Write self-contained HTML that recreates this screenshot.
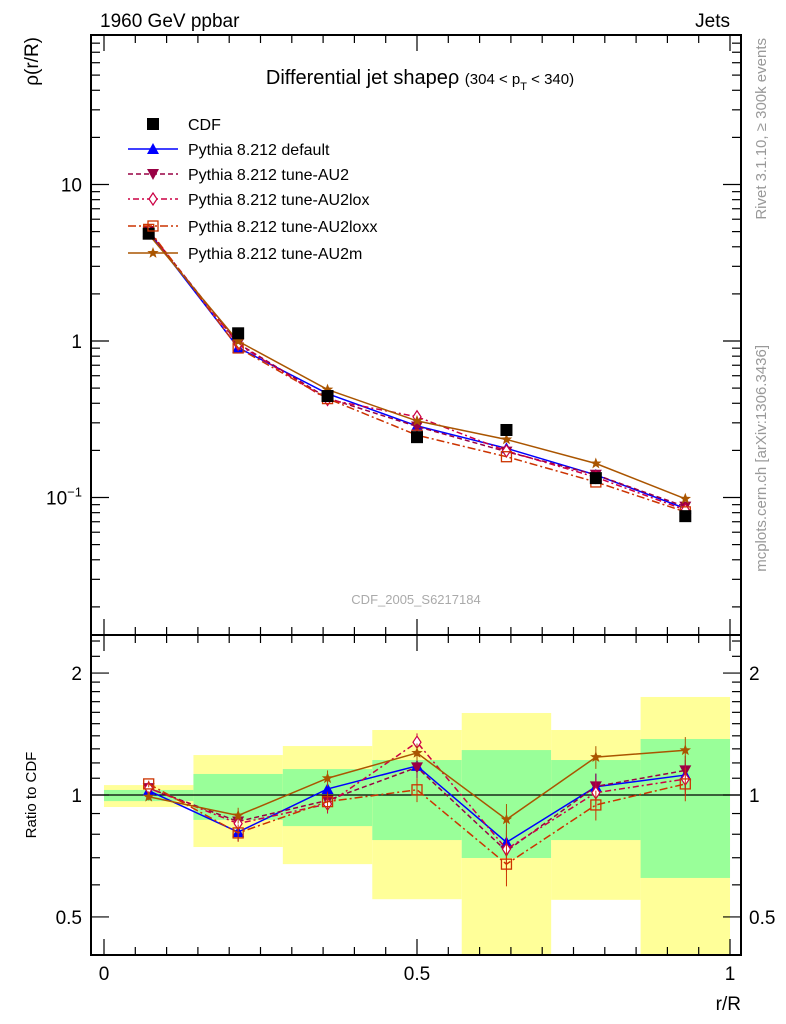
<!DOCTYPE html>
<html><head><meta charset="utf-8"><style>
html,body{margin:0;padding:0;background:#fff;}
svg{display:block;font-family:"Liberation Sans",sans-serif;}
</style></head><body>
<svg id="c" width="786" height="1024" viewBox="0 0 786 1024" xmlns="http://www.w3.org/2000/svg">
<text x="100" y="27" font-size="19">1960 GeV ppbar</text>
<text x="730" y="27" font-size="19" text-anchor="end">Jets</text>
<text x="420" y="84" font-size="20" text-anchor="middle">Differential jet shapeρ <tspan font-size="15">(304 &lt; p</tspan><tspan font-size="11" dy="6">T</tspan><tspan font-size="15" dy="-6"> &lt; 340)</tspan></text>
<text transform="translate(38,37) rotate(-90)" font-size="19" text-anchor="end">ρ(r/R)</text>
<text transform="translate(36,795) rotate(-90)" font-size="15" text-anchor="middle">Ratio to CDF</text>
<text x="741" y="1010" font-size="19" text-anchor="end">r/R</text>
<text transform="translate(766,38) rotate(-90)" font-size="15" fill="#999" text-anchor="end">Rivet 3.1.10, ≥ 300k events</text>
<text transform="translate(766,345) rotate(-90)" font-size="15" fill="#999" text-anchor="end">mcplots.cern.ch [arXiv:1306.3436]</text>
<text x="416" y="604" font-size="13" fill="#aaa" text-anchor="middle">CDF_2005_S6217184</text>
<g id="bands"></g><g id="marks"></g><g id="axes"></g><g id="legend"></g>
</svg>
<script>
const binCenters=[0.0714,0.2143,0.3571,0.5,0.6429,0.7857,0.9286];
const cdfValues=[4.85,1.12,0.445,0.243,0.27,0.133,0.076];
const yellowHi=[1.058,1.255,1.321,1.447,1.594,1.447,1.746];
const yellowLo=[0.934,0.744,0.675,0.553,0.40,0.551,0.40];
const greenHi=[1.029,1.127,1.159,1.220,1.291,1.220,1.375];
const greenLo=[0.966,0.868,0.838,0.774,0.699,0.774,0.624];
const ratioDefault=[1.025,0.81,1.035,1.18,0.764,1.048,1.12];
const ratioAU2=[1.04,0.86,0.97,1.17,0.727,1.05,1.15];
const ratioAU2lox=[1.04,0.85,0.95,1.35,0.735,1.013,1.095];
const ratioAU2loxx=[1.065,0.806,0.963,1.03,0.675,0.945,1.065];
const ratioAU2m=[0.99,0.89,1.10,1.27,0.87,1.24,1.29];
const ratioErr=[0.02,0.04,0.05,0.07,0.08,0.08,0.1];
const yTickLabels=["10","1"];
const ratioTickLabels=["2","1","0.5"];
const xTickLabels=["0","0.5","1"];

const NS="http://www.w3.org/2000/svg";
const X=v=>104+626*v;
const YM=v=>341-156.5*Math.log10(v);
const YR=v=>Math.max(635,Math.min(955,795-405*Math.log10(v)));
function mk(t,a,p){const e=document.createElementNS(NS,t);for(const k in a)e.setAttribute(k,a[k]);p.appendChild(e);return e;}
const bands=document.getElementById('bands'),marks=document.getElementById('marks'),axes=document.getElementById('axes'),leg=document.getElementById('legend');
const bw=1/7;
binCenters.forEach((c,i)=>{
 const y=mk('rect',{x:X(c-bw/2),y:YR(yellowHi[i]),width:626*bw,height:YR(yellowLo[i])-YR(yellowHi[i]),fill:'#ffff99'},bands);
 
 
 const g=mk('rect',{x:X(c-bw/2),y:YR(greenHi[i]),width:626*bw,height:YR(greenLo[i])-YR(greenHi[i]),fill:'#99ff99'},bands);
 
 
});
const unity=mk('line',{x1:91,x2:741,y1:YR(1),y2:YR(1),stroke:'#000','stroke-width':1.3},bands);



function marker(kind,x,y,col,p){
 if(kind==='sq') return mk('rect',{x:x-6,y:y-6,width:12,height:12,fill:'#000'},p);
 if(kind==='up') return mk('polygon',{points:`${x},${y-6} ${x-6},${y+5} ${x+6},${y+5}`,fill:col},p);
 if(kind==='down') return mk('polygon',{points:`${x},${y+6} ${x-6},${y-5} ${x+6},${y-5}`,fill:col},p);
 if(kind==='dia') return mk('polygon',{points:`${x},${y-6} ${x-4},${y} ${x},${y+6} ${x+4},${y}`,fill:'#fff',stroke:col,'stroke-width':1.2},p);
 if(kind==='osq') return mk('rect',{x:x-5,y:y-5,width:10,height:10,fill:'none',stroke:col,'stroke-width':1.3},p);
 if(kind==='star'){let pts=[];for(let k=0;k<10;k++){const r=k%2?2.5:6,a=-Math.PI/2+k*Math.PI/5;pts.push((x+r*Math.cos(a)).toFixed(1)+','+(y+r*Math.sin(a)).toFixed(1));}return mk('polygon',{points:pts.join(' '),fill:col},p);}
}
const series=[
 {name:'default',r:ratioDefault,col:'#0000ff',dash:'',m:'up',label:'Pythia 8.212 default'},
 {name:'au2',r:ratioAU2,col:'#990044',dash:'5,3',m:'down',label:'Pythia 8.212 tune-AU2'},
 {name:'au2lox',r:ratioAU2lox,col:'#cc0044',dash:'2,3,6,3',m:'dia',label:'Pythia 8.212 tune-AU2lox'},
 {name:'au2loxx',r:ratioAU2loxx,col:'#cc3300',dash:'8,3,2,3',m:'osq',label:'Pythia 8.212 tune-AU2loxx'},
 {name:'au2m',r:ratioAU2m,col:'#aa5500',dash:'',m:'star',label:'Pythia 8.212 tune-AU2m'}];
series.forEach(s=>{
 const mainPts=binCenters.map((c,i)=>X(c)+','+YM(s.r[i]*cdfValues[i])).join(' ');
 const l1=mk('polyline',{points:mainPts,fill:'none',stroke:s.col,'stroke-width':1.5,'stroke-dasharray':s.dash},marks);
 
 
 const ratioPts=binCenters.map((c,i)=>X(c)+','+YR(s.r[i])).join(' ');
 const l2=mk('polyline',{points:ratioPts,fill:'none',stroke:s.col,'stroke-width':1.5,'stroke-dasharray':s.dash},marks);
 
 
 binCenters.forEach((c,i)=>{
  mk('line',{x1:X(c),x2:X(c),y1:YR(s.r[i]+ratioErr[i]),y2:YR(s.r[i]-ratioErr[i]),stroke:s.col,'stroke-width':1},marks);
  const m1=marker(s.m,X(c),YM(s.r[i]*cdfValues[i]),s.col,marks);
  
  
  const m2=marker(s.m,X(c),YR(s.r[i]),s.col,marks);
  
  
 });
});
binCenters.forEach((c,i)=>{
 const m=marker('sq',X(c),YM(cdfValues[i]),'#000',marks);
 
 
});
// frames
const f1=mk('rect',{x:91,y:35,width:650,height:600,fill:'none',stroke:'#000','stroke-width':2},axes);


const f2=mk('rect',{x:91,y:635,width:650,height:320,fill:'none',stroke:'#000','stroke-width':2},axes);


// x ticks
for(let k=0;k<=20;k++){const v=k*0.05,x=X(v),L=k%10===0?16:8;
 [[35,1],[635,-1],[635,1],[955,-1]].forEach(([y,d])=>mk('line',{x1:x,x2:x,y1:y,y2:y+d*L,stroke:'#000','stroke-width':1.2},axes));}
[0,0.5,1].forEach((v,i)=>{const t=mk('text',{x:X(v),y:980,'font-size':19,'text-anchor':'middle'},axes);t.textContent=xTickLabels[i];
 
 });
// main y ticks
for(let d=-2;d<=1;d++)for(let m=1;m<=9;m++){const v=m*Math.pow(10,d),y=YM(v);if(y<36||y>634)continue;const L=m===1?18:9;
 mk('line',{x1:91,x2:91+L,y1:y,y2:y,stroke:'#000','stroke-width':1.2},axes);mk('line',{x1:741,x2:741-L,y1:y,y2:y,stroke:'#000','stroke-width':1.2},axes);}
[[10,'10'],[1,'1']].forEach(([v,s],i)=>{const t=mk('text',{x:82,y:YM(v)+7,'font-size':19,'text-anchor':'end'},axes);t.textContent=yTickLabels[i];
 
 });
const t01=mk('text',{x:82,y:YM(0.1)+7,'font-size':19,'text-anchor':'end'},axes);t01.innerHTML='10<tspan font-size="13" dy="-8">−1</tspan>';


// ratio ticks
[0.5,0.6,0.7,0.8,0.9,1,1.1,1.2,1.3,1.4,1.5,1.6,1.7,1.8,1.9,2,0.4,2.2,2.4].forEach(v=>{const y=YR(v);if(y<=636||y>=954)return;const L=(v===0.5||v===1||v===2)?18:9;
 mk('line',{x1:91,x2:91+L,y1:y,y2:y,stroke:'#000','stroke-width':1.2},axes);mk('line',{x1:741,x2:741-L,y1:y,y2:y,stroke:'#000','stroke-width':1.2},axes);});
[2,1,0.5].forEach((v,i)=>{[[82,'end'],[749,'start']].forEach(([x,a])=>{const t=mk('text',{x:x,y:YR(v)+7,'font-size':19,'text-anchor':a},axes);t.textContent=ratioTickLabels[i];
 
 });});
// legend
const ly=[124,149,174,199,226,253];
const sq=marker('sq',153,ly[0],'#000',leg);
const lt=mk('text',{x:188,y:ly[0]+6,'font-size':16},leg);lt.textContent='CDF';


series.forEach((s,i)=>{const y=ly[i+1];
 mk('line',{x1:128,x2:178,y1:y,y2:y,stroke:s.col,'stroke-width':1.5,'stroke-dasharray':s.dash},leg);
 marker(s.m,153,y,s.col,leg);
 const t=mk('text',{x:188,y:y+6,'font-size':16},leg);t.textContent=s.label;
 
 });
</script>
</body></html>
